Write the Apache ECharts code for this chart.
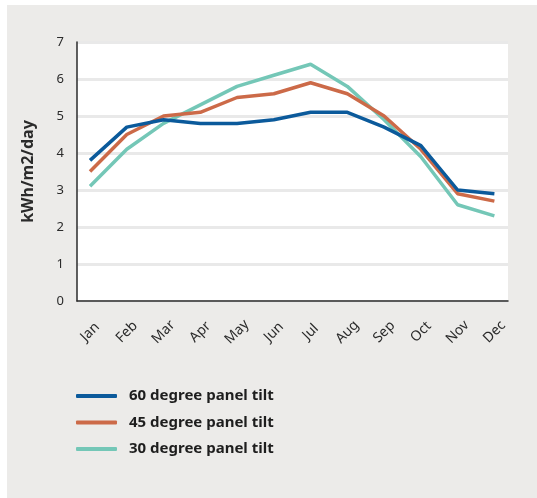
<!DOCTYPE html>
<html>
<head>
<meta charset="utf-8">
<script src="https://cdn.jsdelivr.net/npm/echarts@6/dist/echarts.min.js"></script>
<style>
html,body{margin:0;padding:0;background:#fff;}
#wrap{position:absolute;left:7px;top:5px;width:530px;height:493px;background:#ecebe9;}
#chart{position:absolute;left:0;top:0;width:537px;height:498px;}
</style>
</head>
<body>
<div id="wrap"></div>
<div id="chart"></div>
<script>
const months = ['Jan','Feb','Mar','Apr','May','Jun','Jul','Aug','Sep','Oct','Nov','Dec'];
const seriesNames = ['60 degree panel tilt','45 degree panel tilt','30 degree panel tilt'];
const tilt60 = [3.8, 4.7, 4.9, 4.8, 4.8, 4.9, 5.1, 5.1, 4.7, 4.2, 3.0, 2.9];
const tilt45 = [3.5, 4.5, 5.0, 5.1, 5.5, 5.6, 5.9, 5.6, 5.0, 4.1, 2.9, 2.7];
const tilt30 = [3.1, 4.1, 4.8, 5.3, 5.8, 6.1, 6.4, 5.8, 4.9, 3.9, 2.6, 2.3];
const yTicks = [0,1,2,3,4,5,6,7];

const colors = ['#0b5a9b','#cc6a48','#74c7b7'];
const font = 'Noto Sans';
const toPairs = arr => arr.map((v,i)=>[i,v]);
const monthIdx = months.map((m,i)=>i);

const chart = echarts.init(document.getElementById('chart'));
chart.setOption({
  backgroundColor: 'transparent',
  animation: false,
  textStyle: {fontFamily: font},
  grid: {left: 77, top: 42, right: 29, bottom: 197, show: true, backgroundColor: '#ffffff', borderWidth: 0},
  xAxis: {
    type: 'value', min: -0.354, max: 11.37,
    axisLine: {show: true, onZero: false, lineStyle: {color: '#2b2b2b', width: 1.5}},
    axisTick: {show: false},
    splitLine: {show: false},
    axisLabel: {
      customValues: monthIdx, rotate: 45, fontSize: 14, color: '#2b2b2b', margin: 31,
      align: 'center', verticalAlign: 'middle',
      fontFamily: font,
      formatter: v => months[Math.round(v)]
    }
  },
  yAxis: {
    type: 'value', min: yTicks[0], max: yTicks[yTicks.length-1], interval: 1,
    name: 'kWh/m2/day', nameLocation: 'middle', nameGap: 41, nameRotate: 90,
    nameTextStyle: {fontSize: 16, fontWeight: 'bold', color: '#2b2b2b', fontFamily: font},
    axisLine: {show: true, onZero: false, lineStyle: {color: '#2b2b2b', width: 1.5}},
    axisTick: {show: false},
    axisLabel: {fontSize: 13, color: '#2b2b2b', margin: 13, fontFamily: font},
    splitLine: {show: true, lineStyle: {color: '#e9e9e9', width: 3}}
  },
  legend: {
    orient: 'vertical', left: 71, top: 382,
    itemWidth: 41, itemHeight: 4, itemGap: 8.5, icon: 'roundRect',
    textStyle: {fontSize: 15, fontWeight: 'bold', color: '#1e1e1e', fontFamily: font, padding: [0,0,0,7], lineHeight: 18},
    data: seriesNames
  },
  series: [
    {name: seriesNames[0], type: 'line', data: toPairs(tilt60), showSymbol: false, symbol: 'none', z: 4,
     lineStyle: {color: colors[0], width: 3.5}, itemStyle: {color: colors[0]}},
    {name: seriesNames[1], type: 'line', data: toPairs(tilt45), showSymbol: false, symbol: 'none', z: 3,
     lineStyle: {color: colors[1], width: 3.5}, itemStyle: {color: colors[1]}},
    {name: seriesNames[2], type: 'line', data: toPairs(tilt30), showSymbol: false, symbol: 'none', z: 2,
     lineStyle: {color: colors[2], width: 3.5}, itemStyle: {color: colors[2]}}
  ]
});
</script>
</body>
</html>
